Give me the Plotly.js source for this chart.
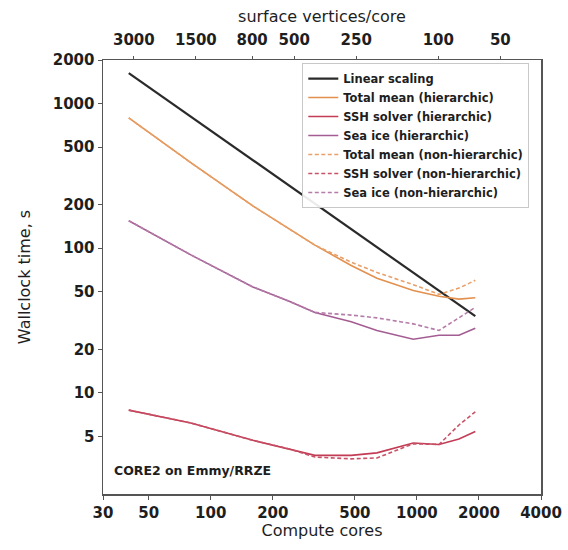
<!DOCTYPE html>
<html>
<head>
<meta charset="utf-8">
<script src="https://cdn.plot.ly/plotly-3.0.1.min.js"></script>
<style>html,body{margin:0;padding:0;background:#fff;}#chart{width:568px;height:550px;}</style>
</head>
<body>
<div id="chart"></div>
<script>
// Compute cores (x)
const cores = [40, 80, 160, 240, 320, 480, 640, 960, 1280, 1600, 1920];
// Wallclock time, s
const linearScaling = [1625, 812, 406, 271, 203, 135, 102, 68, 51, 40.6, 33.9];
const totalHier     = [796, 390, 196, 135, 105, 76, 62, 51, 46.5, 44.5, 45.5];
const sshHier       = [7.6, 6.2, 4.7, 4.1, 3.7, 3.7, 3.85, 4.5, 4.4, 4.8, 5.4];
const seaIceHier    = [155, 90, 54, 43, 36, 31, 27, 23.5, 25, 25, 28];
const totalNonHier  = [796, 390, 196, 135, 105, 80, 68, 56, 48, 53, 60];
const sshNonHier    = [7.6, 6.2, 4.7, 4.1, 3.6, 3.5, 3.55, 4.45, 4.4, 6.0, 7.4];
const seaIceNonHier = [155, 90, 54, 43, 36, 34.5, 33, 30, 27, 33, 39];

// Axis ticks
const coreTicks = [30, 50, 100, 200, 500, 1000, 2000, 4000];
const timeTicks = [5, 10, 20, 50, 100, 200, 500, 1000, 2000];
const vertsPerCoreTicks = [3000, 1500, 800, 500, 250, 100, 50];
const surfaceVertices = 127000;

const fontFam = 'DejaVu Sans, sans-serif';
const ink = '#1e1e1e';
const dashStyle = '4px,2.5px';

function tr(name, y, color, dash, width) {
  return {x: cores, y: y, name: name, type: 'scatter', mode: 'lines',
          line: {color: color, dash: dash, width: width || 1.6}};
}

const data = [
  tr('Linear scaling', linearScaling, '#2a2a2a', 'solid', 2.2),
  tr('Total mean (hierarchic)', totalHier, '#e3904e', 'solid'),
  tr('SSH solver (hierarchic)', sshHier, '#c23c55', 'solid'),
  tr('Sea ice (hierarchic)', seaIceHier, '#a45d92', 'solid'),
  tr('Total mean (non-hierarchic)', totalNonHier, '#e8a06a', dashStyle),
  tr('SSH solver (non-hierarchic)', sshNonHier, '#c75266', dashStyle),
  tr('Sea ice (non-hierarchic)', seaIceNonHier, '#b47ca8', dashStyle),
  // carrier for the top (vertices/core) axis, not drawn
  {x: cores, y: linearScaling, xaxis: 'x2', yaxis: 'y', type: 'scatter', mode: 'lines',
   opacity: 0, showlegend: false, hoverinfo: 'skip', line: {width: 0}}
];

const xr = [Math.log10(30), Math.log10(4000)];
const tickFont = {size: 15, color: ink, weight: 'bold'};
const titleFont = {size: 16, color: ink};

const layout = {
  width: 568, height: 550,
  margin: {l: 103, r: 27, t: 60, b: 56},
  paper_bgcolor: '#fff', plot_bgcolor: '#fff',
  font: {family: fontFam, color: ink},
  showlegend: true,
  legend: {x: 0.455, y: 0.993, xanchor: 'left', yanchor: 'top',
           bgcolor: 'rgba(255,255,255,0.9)', bordercolor: '#c8c8c8', borderwidth: 1,
           font: {size: 11.5, family: fontFam, color: ink, weight: 'bold'},
           itemwidth: 30, tracegroupgap: 0},
  xaxis: {type: 'log', range: xr, tickvals: coreTicks, ticktext: coreTicks.map(String),
          showgrid: false, zeroline: false, showline: true, linecolor: '#555', linewidth: 1.5,
          ticks: 'outside', ticklen: 4, tickcolor: '#555', tickfont: tickFont,
          title: {text: 'Compute cores', font: titleFont, standoff: 4}},
  xaxis2: {type: 'log', range: xr, overlaying: 'x', side: 'top', anchor: 'y',
           tickvals: vertsPerCoreTicks.map(v => surfaceVertices / v),
           ticktext: vertsPerCoreTicks.map(String),
           showgrid: false, zeroline: false, showline: true, linecolor: '#555', linewidth: 1.5,
           ticks: 'outside', ticklen: 3, tickcolor: '#555', tickfont: tickFont,
           ticklabelstandoff: 5,
           title: {text: 'surface vertices/core', font: titleFont, standoff: 4}},
  yaxis: {type: 'log', range: [Math.log10(2), Math.log10(2000)], tickvals: timeTicks,
          ticktext: timeTicks.map(String),
          showgrid: false, zeroline: false, showline: true, mirror: true, linecolor: '#555', linewidth: 1.5,
          ticks: 'outside', ticklen: 4, tickcolor: '#555', tickfont: tickFont,
          title: {text: 'Wallclock time, s', font: titleFont, standoff: 18}},
  annotations: [{text: 'CORE2 on Emmy/RRZE', xref: 'paper', yref: 'paper', x: 0.02, y: 0.055,
                 xanchor: 'left', yanchor: 'middle', showarrow: false,
                 font: {size: 12.5, color: ink, family: fontFam, weight: 'bold'}}]
};

Plotly.newPlot('chart', data, layout, {displayModeBar: false, staticPlot: true});
</script>
</body>
</html>
